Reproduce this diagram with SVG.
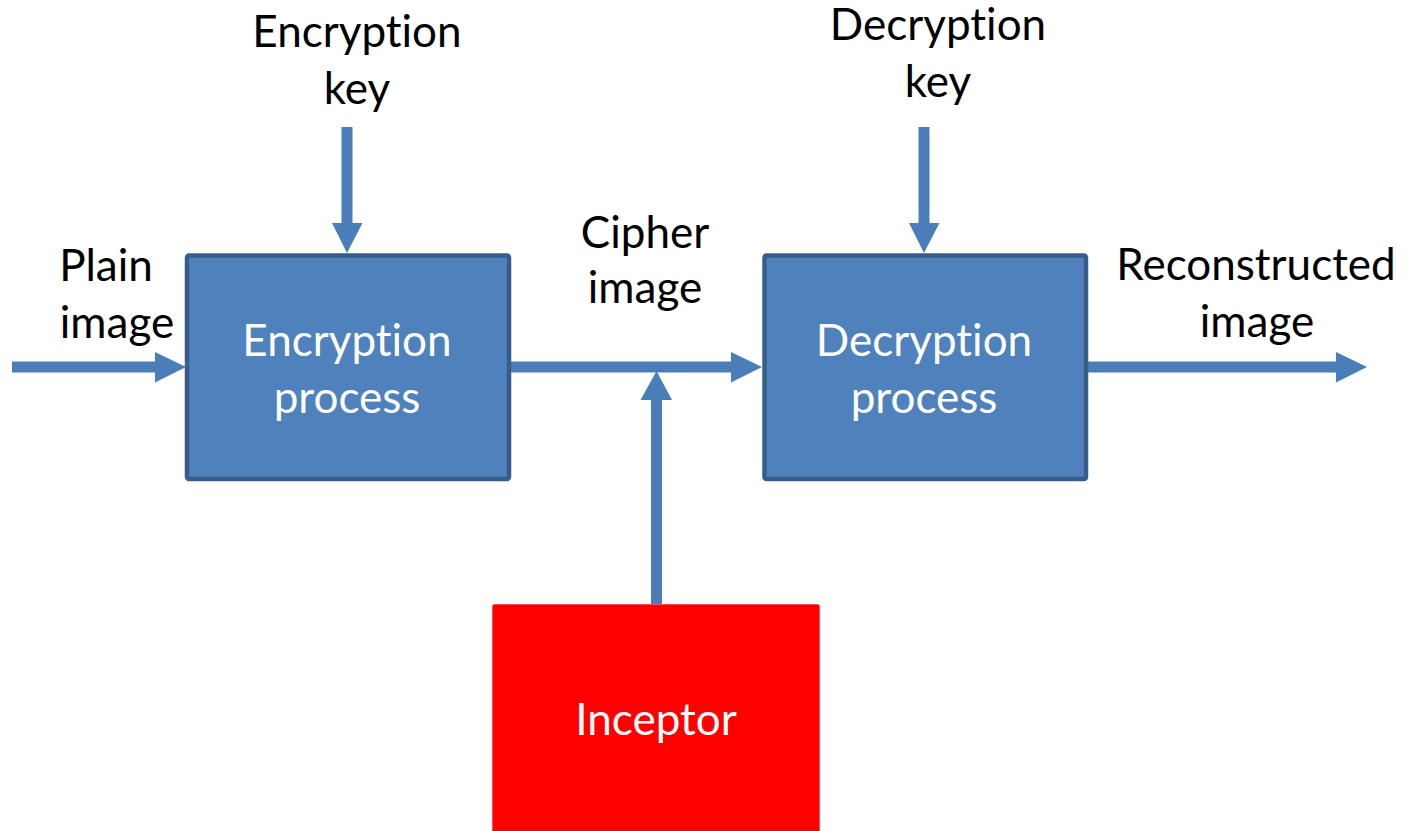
<svg xmlns="http://www.w3.org/2000/svg" width="1414" height="831" viewBox="0 0 1414 831">
  <style>
    .lbl, .inner { font-family: Lato, "Open Sans", "Liberation Sans", sans-serif; font-size: 44px; text-anchor: middle; font-variant-ligatures: none; }
    .lbl { fill: #000; }
    .inner { fill: #fff; }
    .proc { fill: #4F81BD; stroke: #385D8A; stroke-width: 4.5; }
    .attack { fill: #FF0000; stroke: #F05050; stroke-width: 1; }
    .arrow { fill: #4A7EBB; stroke: none; }
  </style>
  <rect width="1414" height="831" fill="#fff"/>

  <!-- connectors: shaft + triangular head drawn as one outline -->
  <g id="connectors">
    <!-- plain image in -->
    <path class="arrow" d="M12,361.5 H155 V352 L186,367 L155,382.5 V372.5 H12 Z"/>
    <!-- encryption key down -->
    <path class="arrow" d="M341.5,127 V223 H332 L347,253 L362.5,223 H352.5 V127 Z"/>
    <!-- cipher image -->
    <path class="arrow" d="M509,361.5 H731 V352 L762,367 L731,382.5 V372.5 H509 Z"/>
    <!-- inceptor tap, pointing up -->
    <path class="arrow" d="M651,604 V400 H640.5 L656.5,371 L672,400 H662 V604 Z"/>
    <!-- decryption key down -->
    <path class="arrow" d="M918.5,127 V223 H909 L924,253 L939.5,223 H929.5 V127 Z"/>
    <!-- reconstructed image out -->
    <path class="arrow" d="M1087,361.5 H1336 V352 L1367,367 L1336,382.5 V372.5 H1087 Z"/>
  </g>

  <g id="encryption-process">
    <rect class="proc" x="187" y="255.5" width="322" height="223.5" rx="2"/>
    <text class="inner" x="347" y="356">Encryption</text>
    <text class="inner" x="347" y="413">process</text>
  </g>

  <g id="decryption-process">
    <rect class="proc" x="764.5" y="255.5" width="321.5" height="223.5" rx="2"/>
    <text class="inner" x="924" y="356">Decryption</text>
    <text class="inner" x="924" y="413">process</text>
  </g>

  <g id="inceptor">
    <rect class="attack" x="492.5" y="604.5" width="327" height="240" rx="2"/>
    <text class="inner" x="656" y="735">Inceptor</text>
  </g>

  <g id="encryption-key">
    <text class="lbl" x="357" y="47">Encryption</text>
    <text class="lbl" x="357" y="104">key</text>
  </g>

  <g id="decryption-key">
    <text class="lbl" x="938" y="40">Decryption</text>
    <text class="lbl" x="938" y="97">key</text>
  </g>

  <g id="plain-image">
    <text class="lbl" x="106" y="281">Plain</text>
    <text class="lbl" x="117" y="338">image</text>
  </g>

  <g id="cipher-image">
    <text class="lbl" x="645" y="248">Cipher</text>
    <text class="lbl" x="645" y="303">image</text>
  </g>

  <g id="reconstructed-image">
    <text class="lbl" x="1256" y="280">Reconstructed</text>
    <text class="lbl" x="1257" y="337">image</text>
  </g>
</svg>
